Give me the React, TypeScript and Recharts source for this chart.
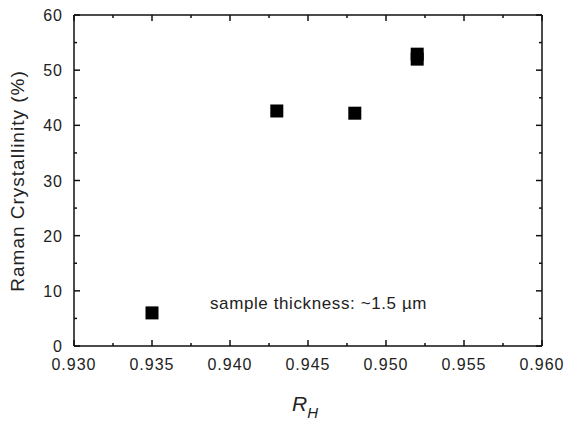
import React from 'react';
import { ScatterChart, Scatter, XAxis, YAxis } from 'recharts';

// R_H values and measured Raman crystallinity (%)
const rhValues = [0.935, 0.943, 0.948, 0.952, 0.952];
const crystallinity = [6.0, 42.6, 42.2, 52.9, 52.0];

const xMajorTicks = [0.93, 0.935, 0.94, 0.945, 0.95, 0.955, 0.96];
const xMinorTicks = [0.9325, 0.9375, 0.9425, 0.9475, 0.9525, 0.9575];
const yMajorTicks = [0, 10, 20, 30, 40, 50, 60];
const yMinorTicks = [5, 15, 25, 35, 45, 55];

const xTicks = [...xMajorTicks, ...xMinorTicks].sort((a, b) => a - b);
const yTicks = [...yMajorTicks, ...yMinorTicks].sort((a, b) => a - b);

const data = rhValues.map((rh, i) => ({ rh, value: crystallinity[i] }));

const FONT = 'Liberation Sans, Arial, Helvetica, sans-serif';
const INK = '#111';

const isMajor = (list: number[], v: number) => list.some((m) => Math.abs(m - v) < 1e-6);

const BottomTick = (props: any) => {
  const { x, y, payload } = props;
  const major = isMajor(xMajorTicks, payload.value);
  return (
    <g>
      <line x1={x} x2={x} y1={y} y2={y - (major ? 6 : 3)} stroke={INK} strokeWidth={1.5} />
      {major && (
        <text x={x} y={y + 24} textAnchor="middle" fontSize={16} letterSpacing={1} fill="#222" fontFamily={FONT}>
          {payload.value.toFixed(3)}
        </text>
      )}
    </g>
  );
};

const TopTick = (props: any) => {
  const { x, y, payload } = props;
  const major = isMajor(xMajorTicks, payload.value);
  return <line x1={x} x2={x} y1={y} y2={y + (major ? 6 : 3)} stroke={INK} strokeWidth={1.5} />;
};

const LeftTick = (props: any) => {
  const { x, y, payload } = props;
  const major = isMajor(yMajorTicks, payload.value);
  return (
    <g>
      <line x1={x} x2={x + (major ? 6 : 3)} y1={y} y2={y} stroke={INK} strokeWidth={1.5} />
      {major && (
        <text x={x - 11} y={y + 6} textAnchor="end" fontSize={16} letterSpacing={1} fill="#222" fontFamily={FONT}>
          {payload.value}
        </text>
      )}
    </g>
  );
};

const RightTick = (props: any) => {
  const { x, y, payload } = props;
  const major = isMajor(yMajorTicks, payload.value);
  return <line x1={x} x2={x - (major ? 6 : 3)} y1={y} y2={y} stroke={INK} strokeWidth={1.5} />;
};

const SquareMarker = (props: any) => (
  <rect x={props.cx - 6.5} y={props.cy - 6.5} width={13} height={13} fill="#000" />
);

const NoMarker = () => <g />;

const axisLine = { stroke: INK, strokeWidth: 1.5 };

export default function App() {
  return (
    <div style={{ position: 'absolute', left: 0, top: 0, width: 568, height: 423, background: '#fff' }}>
      <ScatterChart width={568} height={423} margin={{ top: 14, right: 25, bottom: 47, left: 34 }}>
        <XAxis
          xAxisId="bottom"
          dataKey="rh"
          type="number"
          domain={[0.93, 0.96]}
          ticks={xTicks}
          interval={0}
          height={30}
          tickSize={0}
          tickMargin={0}
          axisLine={axisLine}
          tickLine={false}
          tick={<BottomTick />}
        />
        <XAxis
          xAxisId="top"
          dataKey="rh"
          orientation="top"
          type="number"
          domain={[0.93, 0.96]}
          ticks={xTicks}
          interval={0}
          height={1}
          tickSize={0}
          tickMargin={0}
          axisLine={axisLine}
          tickLine={false}
          tick={<TopTick />}
        />
        <YAxis
          yAxisId="left"
          dataKey="value"
          type="number"
          domain={[0, 60]}
          ticks={yTicks}
          interval={0}
          width={40}
          tickSize={0}
          tickMargin={0}
          axisLine={axisLine}
          tickLine={false}
          tick={<LeftTick />}
        />
        <YAxis
          yAxisId="right"
          dataKey="value"
          orientation="right"
          type="number"
          domain={[0, 60]}
          ticks={yTicks}
          interval={0}
          width={1}
          tickSize={0}
          tickMargin={0}
          axisLine={axisLine}
          tickLine={false}
          tick={<RightTick />}
        />
        {/* frame axes need a bound series to render; this one draws nothing */}
        <Scatter
          data={data}
          xAxisId="top"
          yAxisId="right"
          shape={<NoMarker />}
          legendType="none"
          isAnimationActive={false}
        />
        <Scatter
          data={data}
          xAxisId="bottom"
          yAxisId="left"
          shape={<SquareMarker />}
          isAnimationActive={false}
        />
        <text x={210} y={309} fontSize={17} letterSpacing={0.6} fill="#222" fontFamily={FONT}>
          sample thickness: ~1.5 µm
        </text>
        <text
          transform="translate(24,181) rotate(-90)"
          textAnchor="middle"
          fontSize={19}
          letterSpacing={1}
          fill="#222"
          fontFamily={FONT}
        >
          Raman Crystallinity (%)
        </text>
        <text x={292} y={411} fontSize={21} fontStyle="italic" fill="#222" fontFamily={FONT}>
          R
          <tspan fontSize={15} dy={7}>H</tspan>
        </text>
      </ScatterChart>
    </div>
  );
}
